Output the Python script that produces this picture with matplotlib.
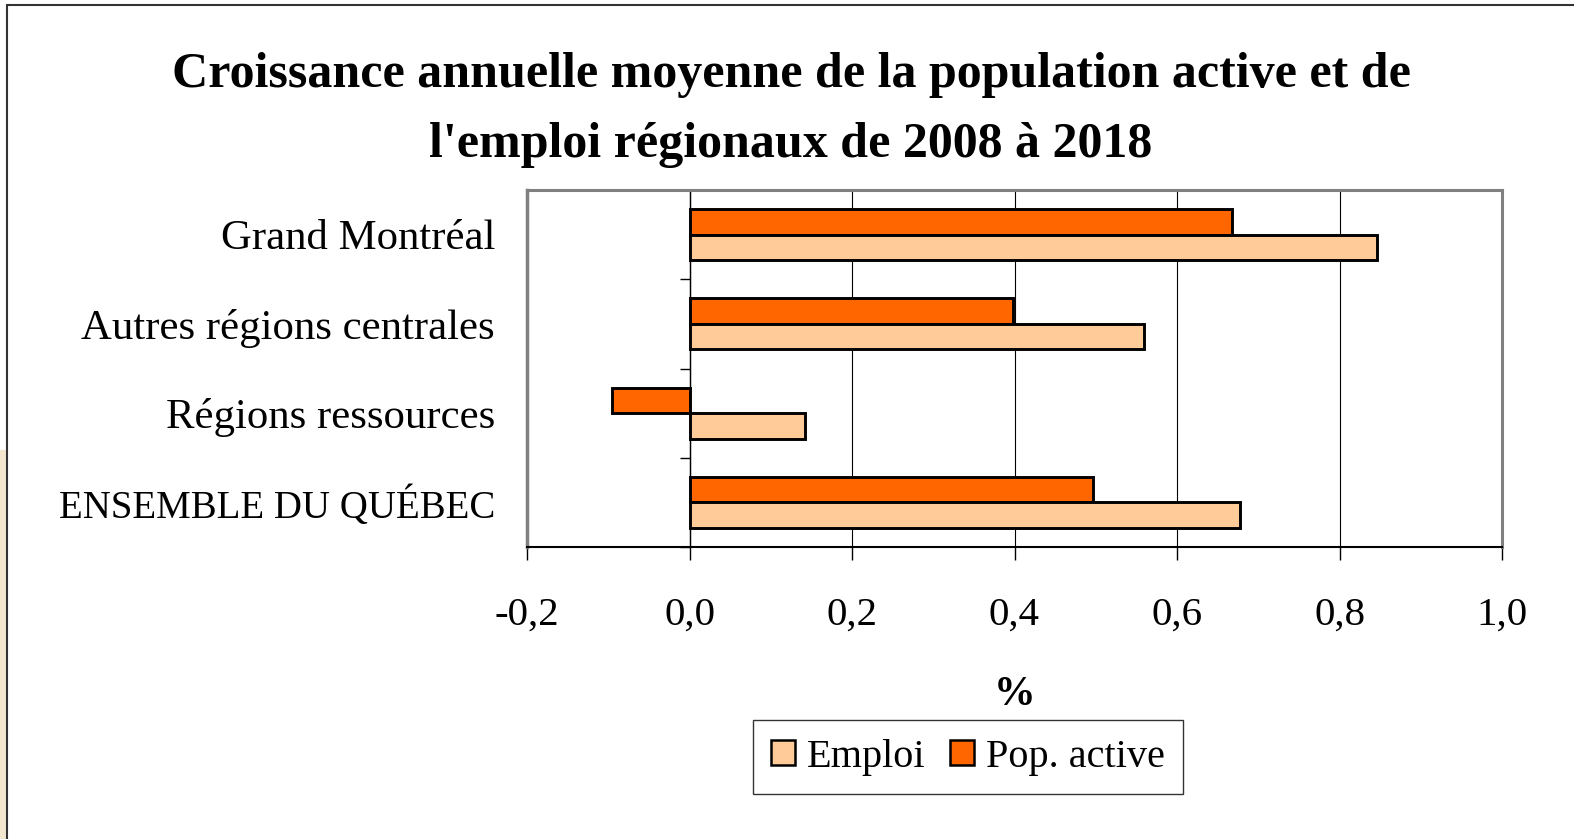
import matplotlib.pyplot as plt
from matplotlib.patches import Rectangle, Patch

# Données
regions = ['Grand Montréal', 'Autres régions centrales', 'Régions ressources', 'ENSEMBLE DU QUÉBEC']
emploi = [0.846, 0.559, 0.142, 0.677]
pop_active = [0.668, 0.398, -0.095, 0.496]
xticks = [-0.2, 0.0, 0.2, 0.4, 0.6, 0.8, 1.0]

plt.rcParams['font.family'] = ['Liberation Serif', 'DejaVu Serif']

W, H = 1574, 839
fig = plt.figure(figsize=(W / 100, H / 100), dpi=100)

# Cadre de la figure
fig.patches.append(Rectangle((0, 0), 6 / W, 1 - 450 / H, color='#f2e6cf',
                             transform=fig.transFigure))
fig.patches.append(Rectangle((7 / W, -0.1), 1.2, 1.1 - 5 / H, fill=False,
                             edgecolor='#333333', lw=1.5, transform=fig.transFigure))

ax = fig.add_axes([527 / W, 1 - 547 / H, (1502 - 527) / W, (547 - 190) / H])

# Barres horizontales
y = list(range(len(regions)))
h = 0.287
ax.barh([i - h / 2 for i in y], pop_active, height=h, color='#FF6600',
        edgecolor='black', lw=2.1, zorder=3)
ax.barh([i + h / 2 for i in y], emploi, height=h, color='#FFCC99',
        edgecolor='black', lw=2.1, zorder=3)

ax.set_xlim(-0.2, 1.0)
ax.set_ylim(3.5, -0.5)

# Axe des x
ax.set_xticks(xticks)
ax.set_xticklabels([f'{v:.1f}'.replace('.', ',') for v in xticks])
ax.tick_params(axis='x', length=9, width=1, direction='out', pad=27, labelsize=29.5)
ax.grid(axis='x', color='black', lw=0.8, zorder=0)
ax.set_axisbelow(True)
ax.set_xlabel('%', fontsize=30, fontweight='bold', labelpad=30)

# Axe des catégories placé à zéro
ax.spines['left'].set_position(('data', 0))
ax.spines['left'].set_color('black')
ax.spines['left'].set_linewidth(1)
ax.set_yticks(y)
ax.set_yticklabels(regions)
ax.tick_params(axis='y', which='major', length=0, pad=140, labelsize=30.8)
ax.get_yticklabels()[-1].set_fontsize(28)
ax.set_yticks([-0.5, 0.5, 1.5, 2.5, 3.5], minor=True)
ax.tick_params(axis='y', which='minor', length=7, width=1, color='black')

ax.spines['bottom'].set_color('black')
ax.spines['bottom'].set_linewidth(1.5)
for s in ['top', 'right']:
    ax.spines[s].set_color('#808080')
    ax.spines[s].set_linewidth(2.2)
ax.axvline(-0.2, color='#808080', lw=2.5, clip_on=False, zorder=1)

# Titre
fig.text(791 / W, 1 - 110 / H,
         "Croissance annuelle moyenne de la population active et de\nl'emploi régionaux de 2008 à 2018",
         ha='center', va='center', fontsize=36, fontweight='bold', linespacing=1.7)

# Légende
handles = [Patch(facecolor='#FFCC99', edgecolor='black', lw=1.8),
           Patch(facecolor='#FF6600', edgecolor='black', lw=1.8)]
leg = fig.legend(handles, ['Emploi', 'Pop. active'], loc='center',
                 bbox_to_anchor=(968 / W, 1 - 757 / H), ncol=2, fontsize=29,
                 frameon=True, fancybox=False, edgecolor='black',
                 handlelength=0.6, handleheight=0.6, handletextpad=0.3,
                 columnspacing=0.6, borderpad=0.45)
leg.get_frame().set_linewidth(1)

fig.savefig('out.png', dpi=100)
